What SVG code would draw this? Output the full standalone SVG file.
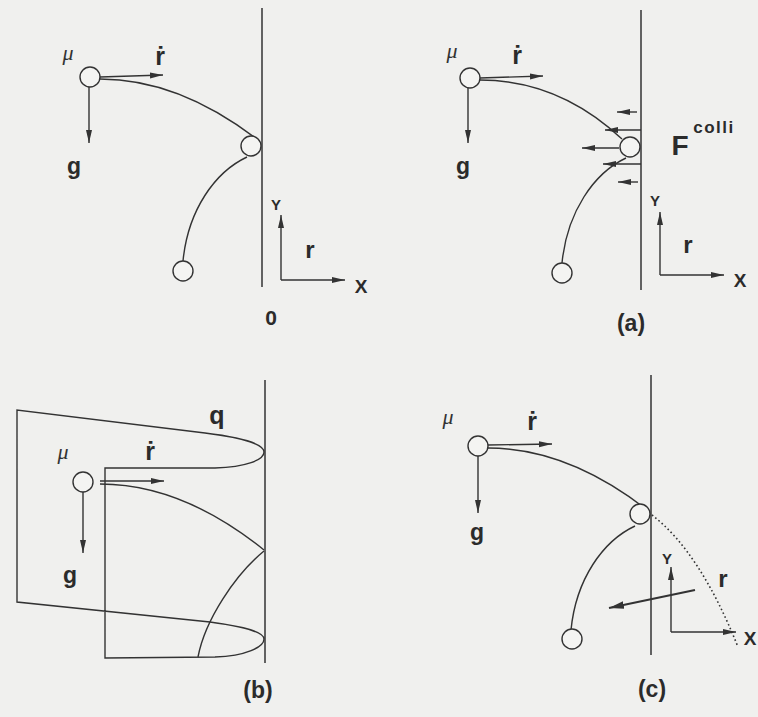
<svg xmlns="http://www.w3.org/2000/svg" width="758" height="717" viewBox="0 0 758 717">
<style>
.ln{fill:none;stroke:#333;stroke-width:1.4}
.wall{fill:none;stroke:#333;stroke-width:1.5}
.arr{fill:none;stroke:#333;stroke-width:1.4;marker-end:url(#ah)}
.thk{fill:none;stroke:#333;stroke-width:2.2;marker-end:url(#ah2)}
.ball{fill:#f4f4f2;stroke:#333;stroke-width:1.4}
.dot{fill:none;stroke:#333;stroke-width:1.6;stroke-dasharray:1.6 2.6}
.t{font-family:"Liberation Sans","DejaVu Sans",Arial,sans-serif;font-weight:bold;fill:#2b2b2b;text-anchor:middle}
.mu{font-family:"Liberation Serif","DejaVu Serif",serif;font-style:italic;fill:#333;font-size:22px;text-anchor:middle}
</style>
<defs>
<marker id="ah" markerUnits="userSpaceOnUse" markerWidth="14" markerHeight="8" refX="13" refY="4" orient="auto">
<path d="M0,1 L13,4 L0,7 Z" fill="#333"/>
</marker>
<marker id="ah2" markerUnits="userSpaceOnUse" markerWidth="16" markerHeight="10" refX="15" refY="5" orient="auto">
<path d="M0,1.2 L15,5 L0,8.8 Z" fill="#333"/>
</marker>
</defs>
<rect x="0" y="0" width="758" height="717" fill="#f0f0ee"/>

<g id="panel-0">
<line class="wall" x1="262" y1="8" x2="262" y2="287"/>
<g id="connectors-0">
<path class="ln" d="M100,79 Q179,79 258,140"/>
<path class="ln" d="M247,157 C215,172 188,210 183,261"/>
<line class="arr" x1="100" y1="77" x2="163" y2="75"/>
<line class="arr" x1="89" y1="87" x2="89" y2="143"/>
<line class="arr" x1="281" y1="280" x2="281" y2="215"/>
<line class="arr" x1="281" y1="280" x2="345" y2="280"/>
</g>
<g id="ball-0a"><circle class="ball" cx="90" cy="77" r="10"/></g>
<g id="ball-0b"><circle class="ball" cx="251" cy="146" r="10"/></g>
<g id="ball-0c"><circle class="ball" cx="183" cy="271" r="10"/></g>
<text class="mu" x="68" y="60">μ</text>
<text class="t" x="160" y="65" font-size="25">ṙ</text>
<text class="t" x="74" y="174" font-size="23">g</text>
<text class="t" x="276" y="210" font-size="15">Y</text>
<text class="t" x="310" y="258" font-size="24">r</text>
<text class="t" x="361" y="293" font-size="19">X</text>
<text class="t" x="271" y="325" font-size="21">0</text>
</g>

<g id="panel-a">
<line class="wall" x1="641" y1="10" x2="641" y2="290"/>
<g id="connectors-a">
<path class="ln" d="M480,80 Q559,80 622,139"/>
<path class="ln" d="M626,158 C594,173 567,212 562,263"/>
<line class="arr" x1="480" y1="78" x2="543" y2="76"/>
<line class="arr" x1="468" y1="88" x2="468" y2="143"/>
<line class="arr" x1="637" y1="112" x2="617" y2="112"/>
<line class="arr" x1="641" y1="130" x2="605" y2="130"/>
<line class="arr" x1="619" y1="148" x2="582" y2="148"/>
<line class="arr" x1="641" y1="164" x2="603" y2="164"/>
<line class="arr" x1="638" y1="182" x2="618" y2="182"/>
<line class="arr" x1="660" y1="275" x2="660" y2="212"/>
<line class="arr" x1="660" y1="275" x2="724" y2="275"/>
</g>
<g id="ball-aa"><circle class="ball" cx="470" cy="78" r="10"/></g>
<g id="ball-ab"><circle class="ball" cx="630" cy="147" r="10"/></g>
<g id="ball-ac"><circle class="ball" cx="562" cy="273" r="10"/></g>
<text class="mu" x="452" y="58">μ</text>
<text class="t" x="517" y="64" font-size="25">ṙ</text>
<text class="t" x="463" y="174" font-size="23">g</text>
<text class="t" x="680" y="155" font-size="28">F</text>
<text class="t" x="714" y="133" font-size="17" letter-spacing="1.5">colli</text>
<text class="t" x="655" y="206" font-size="15">Y</text>
<text class="t" x="688" y="253" font-size="24">r</text>
<text class="t" x="740" y="287" font-size="19">X</text>
<text class="t" x="631" y="331" font-size="23">(a)</text>
</g>

<g id="panel-b">
<line class="wall" x1="265" y1="380" x2="265" y2="663" stroke-width="2.2"/>
<g id="connectors-b">
<path class="ln" d="M105,468 L215,468 C246,467 264,460 264,452 C264,445 246,438 205,433 L17,410 L17,602 L210,622 C246,627 264,632 264,639 C264,647 246,656 215,657 L105,658 Z"/>
<path class="ln" d="M100,484 Q182,484 264,550"/>
<path class="ln" d="M264,551 C235,575 205,620 198,657"/>
<line class="arr" x1="100" y1="481" x2="164" y2="481"/>
<line class="arr" x1="83" y1="492" x2="83" y2="553"/>
</g>
<g id="ball-b"><circle class="ball" cx="83" cy="482" r="10"/></g>
<text class="mu" x="63" y="459">μ</text>
<text class="t" x="150" y="460" font-size="25">ṙ</text>
<text class="t" x="70" y="583" font-size="23">g</text>
<text class="t" x="217" y="424" font-size="25">q</text>
<text class="t" x="258" y="698" font-size="23">(b)</text>
</g>

<g id="panel-c">
<line class="wall" x1="651" y1="375" x2="651" y2="655"/>
<g id="connectors-c">
<path class="ln" d="M488,448 Q567,448 646,509"/>
<path class="ln" d="M635,526 C603,541 576,579 571,630"/>
<path class="dot" d="M652,515 Q700,552 738,647"/>
<line class="arr" x1="488" y1="445" x2="552" y2="444"/>
<line class="arr" x1="478" y1="456" x2="478" y2="513"/>
<line class="arr" x1="671" y1="632" x2="671" y2="567"/>
<line class="arr" x1="671" y1="632" x2="736" y2="632"/>
<line class="thk" x1="695" y1="590" x2="609" y2="608"/>
</g>
<g id="ball-ca"><circle class="ball" cx="478" cy="446" r="10"/></g>
<g id="ball-cb"><circle class="ball" cx="640" cy="514" r="10"/></g>
<g id="ball-cc"><circle class="ball" cx="572" cy="639" r="10"/></g>
<text class="mu" x="448" y="424">μ</text>
<text class="t" x="532" y="430" font-size="25">ṙ</text>
<text class="t" x="477" y="540" font-size="23">g</text>
<text class="t" x="667" y="564" font-size="15">Y</text>
<text class="t" x="723" y="587" font-size="24">r</text>
<text class="t" x="750" y="645" font-size="19">X</text>
<text class="t" x="652" y="697" font-size="23">(c)</text>
</g>
</svg>
